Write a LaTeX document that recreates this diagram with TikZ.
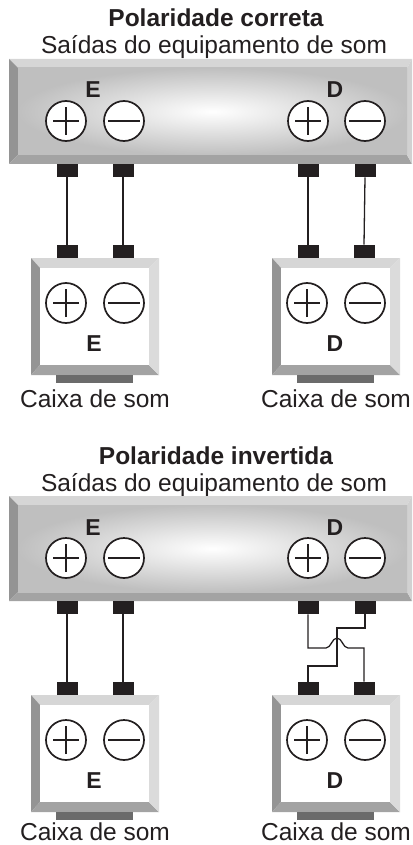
\documentclass[tikz,border=0pt]{standalone}
\usepackage{fontspec}
\setmainfont{Liberation Sans}
\usetikzlibrary{calc}
\definecolor{ink}{HTML}{231F20}
\tikzset{
	title/.style={font=\fontsize{24.5}{28}\selectfont\bfseries, text=ink, anchor=base, inner sep=0pt},
	sub/.style={font=\fontsize{24.5}{28}\selectfont, text=ink, anchor=base, inner sep=0pt},
	side/.style={font=\fontsize{23}{26}\selectfont\bfseries, text=ink, anchor=base, inner sep=0pt},
	pole/.style={circle, draw=ink, fill=white, line width=1.7pt, minimum size=40pt, inner sep=0pt},
	plus/.style={pole, path picture={
			\draw[ink, line width=1.7pt] ($(path picture bounding box.center)+(-13pt,0)$) -- ++(26pt,0)
			($(path picture bounding box.center)+(0,-14pt)$) -- ++(0,28pt);}},
	minus/.style={pole, path picture={
			\draw[ink, line width=1.7pt] ($(path picture bounding box.center)+(-16pt,0)$) -- ++(32pt,0);}},
	term/.style={rectangle, fill=ink, minimum width=21pt, minimum height=13pt, inner sep=0pt},
	wire/.style={ink, line width=1.3pt}
}
\begin{document}
\begin{tikzpicture}[x=1pt,y=-1pt]
		\useasboundingbox (0,0) rectangle (412,845);
		\foreach \n/\oy/\kind/\cy in {1/0/correta/407, 2/437/invertida/403} {
			\begin{scope}[yshift=-\oy pt]
				\node[title] (title\n) at (216,27) {Polaridade \kind};
				\node[sub] (sub\n) at (214,54) {Saídas do equipamento de som};
				% amplificador
				\fill[black!16] (9,59) -- (412,59) -- (407,68) -- (18,68) -- cycle;
				\fill[black!42] (9,59) -- (18,68) -- (18,155) -- (9,164) -- cycle;
				\fill[black!36] (9,164) -- (18,155) -- (407,155) -- (412,164) -- cycle;
				\fill[black!18] (412,59) -- (412,164) -- (407,155) -- (407,68) -- cycle;
				\shade[inner color=white, outer color=black!25] (18,68) rectangle (407,155);
				\node[side] at (93,98) {E};
				\node[side] at (335,98) {D};
				\node[plus] (aE-c\n) at (66,121) {};
				\node[minus] (aE-d\n) at (124,121) {};
				\node[plus] (aD-c\n) at (308,121) {};
				\node[minus] (aD-d\n) at (365,121) {};
				\node[term, anchor=north] (aE-p\n) at (67,164) {};
				\node[term, anchor=north] (aE-m\n) at (123,164) {};
				\node[term, anchor=north] (aD-p\n) at (308,164) {};
				\node[term, anchor=north] (aD-m\n) at (365,164) {};
				% caixas de som
				\foreach \sx/\s in {0/E, 241/D} {
					\begin{scope}[xshift=\sx pt]
						\fill[black!16] (31,258) -- (159,258) -- (149,268) -- (40,268) -- cycle;
						\fill[black!42] (31,258) -- (40,268) -- (40,365) -- (31,375) -- cycle;
						\fill[black!36] (31,375) -- (40,365) -- (149,365) -- (159,375) -- cycle;
						\fill[black!14] (159,258) -- (159,375) -- (149,365) -- (149,268) -- cycle;
						\fill[white] (40,268) rectangle (149,365);
						\fill[black!58] (56,375) rectangle (133,383);
						\node[plus] (s\s-c\n) at (66,303) {};
						\node[minus] (s\s-d\n) at (124,303) {};
						\node[side] at (94,351) {\s};
						\node[sub] (cap\s\n) at (95,\cy) {Caixa de som};
						\node[term, anchor=south] (s\s-p\n) at (67,258) {};
						\node[term, anchor=south] (s\s-m\n) at (123,258) {};
					\end{scope}
				}
			\end{scope}
		}
		% ligacoes corretas
		\foreach \s in {E,D} {
			\draw[wire] (a\s-p1.south) -- (s\s-p1.north);
			\draw[wire] (a\s-m1.south) -- (s\s-m1.north);
		}
		% ligacoes invertidas
		\draw[wire] (aE-p2.south) -- (sE-p2.north);
		\draw[wire] (aE-m2.south) -- (sE-m2.north);
		\draw[wire] (aD-m2.south) |- (337,628) -- (337,666) -| (sD-p2.north);
		\draw[wire] (aD-p2.south) |- (326,648) .. controls (331,648) and (332,638) .. (337,638)
			.. controls (342,638) and (343,648) .. (348,648) -| (sD-m2.north);
	\end{tikzpicture}
\end{document}
